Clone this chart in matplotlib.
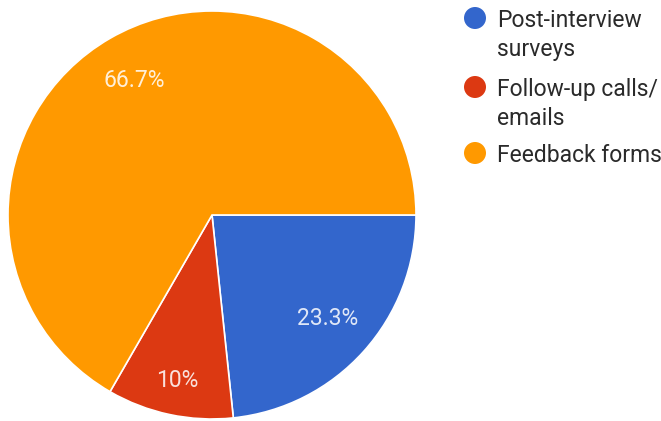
import matplotlib
matplotlib.use("Agg")
import matplotlib.pyplot as plt
from matplotlib.patches import Ellipse
import numpy as np

# responses per follow-up method
categories = ["Post-interview surveys", "Follow-up calls/ emails", "Feedback forms"]
legend_lines = [["Post-interview", "surveys"], ["Follow-up calls/", "emails"], ["Feedback forms"]]
counts = [7, 3, 20]
colors = ["#3366CC", "#DC3912", "#FF9900"]

plt.rcParams["font.family"] = ["Roboto", "DejaVu Sans"]

W, H = 661, 421
fig = plt.figure(figsize=(W / 100, H / 100), dpi=100)
fig.patch.set_facecolor("white")

# pie axes: centre (212, 215) px, radius 204 px
cx, cy, r = 212, 215, 204
ax = fig.add_axes([(cx - r) / W, (H - cy - r) / H, 2 * r / W, 2 * r / H])


def fmt_pct(p):
    s = f"{p:.1f}"
    if s.endswith(".0"):
        s = s[:-2]
    return s + "%"


wedges, texts, autotexts = ax.pie(
    counts,
    colors=colors,
    startangle=0,
    counterclock=False,
    autopct=fmt_pct,
    pctdistance=0.76,
    radius=1.0,
    wedgeprops=dict(edgecolor="white", linewidth=1.2),
    textprops=dict(color="white", fontsize=16.5, alpha=0.85),
)
ax.set_xlim(-1, 1)
ax.set_ylim(-1, 1)
ax.set_aspect("equal")
ax.axis("off")

# the narrow slice keeps its label further out
for w, t in zip(wedges, autotexts):
    if w.theta2 - w.theta1 < 40:
        mid = np.deg2rad((w.theta1 + w.theta2) / 2)
        t.set_position((0.83 * np.cos(mid), 0.83 * np.sin(mid)))

# legend drawn by hand so the dot sits on the first text line
entry_y = [18, 87, 153]
line_gap = 29
dot = 22
for color, lines, y in zip(colors, legend_lines, entry_y):
    fig.patches.append(Ellipse((475 / W, 1 - y / H), dot / W, dot / H,
                               transform=fig.transFigure, facecolor=color, edgecolor="none"))
    for i, line in enumerate(lines):
        fig.text(497 / W, 1 - (y + 9 + i * line_gap) / H, line, fontsize=16.5,
                 color="#2a2a2a", va="baseline", ha="left")

fig.savefig("out.png", dpi=100)
